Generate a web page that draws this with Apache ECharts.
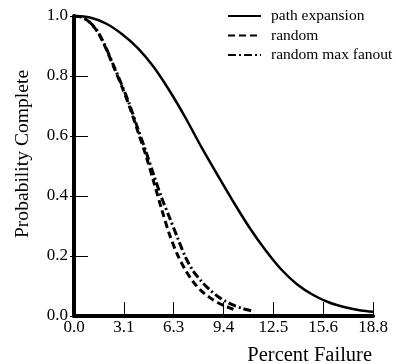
<!DOCTYPE html>
<html>
<head>
<meta charset="utf-8">
<script src="https://cdn.jsdelivr.net/npm/echarts@6/dist/echarts.min.js"></script>
<style>html,body{margin:0;padding:0;background:#fff}#c{width:396px;height:364px}</style>
</head>
<body>
<div id="c"></div>
<script>
// Data
const seriesNames = ['path expansion', 'random', 'random max fanout'];
const pathX = [0, 1, 2, 3, 4, 5, 6, 7, 8, 9, 10, 11, 12, 13, 14, 15, 16, 17, 18, 18.75];
const pathY = [1.0, 0.995, 0.975, 0.94, 0.893, 0.83, 0.75, 0.66, 0.562, 0.47, 0.38, 0.295, 0.22, 0.155, 0.105, 0.07, 0.045, 0.029, 0.018, 0.014];
const randX = [0, 0.5, 1, 1.5, 2, 2.5, 3, 3.5, 4, 4.5, 5, 5.5, 6, 6.5, 7, 7.5, 8, 8.5, 9, 9.5, 10];
const randY = [1.0, 0.996, 0.978, 0.945, 0.892, 0.829, 0.765, 0.695, 0.616, 0.537, 0.447, 0.355, 0.27, 0.203, 0.152, 0.112, 0.083, 0.062, 0.045, 0.033, 0.022];
const fanX = [0, 0.5, 1, 1.5, 2, 2.5, 3, 3.5, 4, 4.5, 5, 5.5, 6, 6.5, 7, 7.5, 8, 8.5, 9, 9.5, 10, 10.5, 11, 11.3];
const fanY = [1.0, 0.996, 0.979, 0.947, 0.895, 0.833, 0.77, 0.702, 0.625, 0.55, 0.47, 0.393, 0.327, 0.26, 0.195, 0.148, 0.115, 0.088, 0.066, 0.049, 0.036, 0.026, 0.019, 0.015];
const xTickValues = [0, 3.125, 6.25, 9.375, 12.5, 15.625, 18.75];
const xTickLabels = ['0.0', '3.1', '6.3', '9.4', '12.5', '15.6', '18.8'];
const yTickLabels = ['0.0', '0.2', '0.4', '0.6', '0.8', '1.0'];

const zip = (xs, ys) => xs.map((x, i) => [x, ys[i]]);
const FONT = "'Liberation Serif', 'Times New Roman', serif";
const HIDDEN = {color: 'rgba(0,0,0,0)', borderWidth: 0, opacity: 0};

const chart = echarts.init(document.getElementById('c'), null, {renderer: 'canvas'});
chart.setOption({
  animation: false,
  backgroundColor: '#fff',
  textStyle: {fontFamily: FONT, color: '#000'},
  grid: {left: 74, right: 23, top: 16, bottom: 48, containLabel: false, outerBoundsMode: 'none'},
  legend: {
    orient: 'vertical',
    left: 222,
    top: 3,
    itemWidth: 33,
    itemHeight: 14,
    itemGap: 3.5,
    itemStyle: {opacity: 0},
    textStyle: {fontFamily: FONT, fontSize: 15.5, lineHeight: 16, color: '#000', padding: [0, 0, 0, 5]},
    data: seriesNames
  },
  xAxis: {
    type: 'value',
    min: 0,
    max: xTickValues[xTickValues.length - 1],
    interval: xTickValues[1],
    name: 'Percent Failure',
    nameLocation: 'end',
    nameGap: -1,
    nameTextStyle: {fontFamily: FONT, fontSize: 20.5, color: '#000', align: 'right', verticalAlign: 'top', padding: [29, 0, 0, 0]},
    axisLine: {show: true, lineStyle: {color: '#000', width: 4}},
    axisTick: {show: true, inside: true, length: 14, lineStyle: {color: '#000', width: 1}},
    axisLabel: {
      fontFamily: FONT, fontSize: 17, color: '#000', margin: 3,
      showMinLabel: true, showMaxLabel: true,
      formatter: v => { const i = xTickValues.findIndex(t => Math.abs(t - v) < 1e-6); return i >= 0 ? xTickLabels[i] : ''; }
    },
    splitLine: {show: false}
  },
  yAxis: [{
    type: 'value',
    min: 0,
    max: 1,
    interval: 0.2,
    name: 'Probability Complete',
    nameLocation: 'middle',
    nameGap: 41,
    nameRotate: 90,
    nameTextStyle: {fontFamily: FONT, fontSize: 19.6, color: '#000', padding: [0, 0, 0, 24]},
    axisLine: {show: true, lineStyle: {color: '#000', width: 4}},
    axisTick: {show: true, inside: true, length: 14, lineStyle: {color: '#000', width: 1}},
    axisLabel: {
      fontFamily: FONT, fontSize: 17, color: '#000', margin: 6,
      formatter: v => yTickLabels[Math.round(v / 0.2)]
    },
    splitLine: {show: false}
  }, {
    type: 'value',
    position: 'left',
    offset: 0,
    min: 0,
    max: 1,
    interval: 0.2,
    axisLine: {show: false},
    axisTick: {show: true, inside: false, length: 4, lineStyle: {color: '#000', width: 1}},
    axisLabel: {show: false},
    splitLine: {show: false}
  }],
  series: [
    {name: seriesNames[0], type: 'line', data: zip(pathX, pathY), symbol: 'circle', showSymbol: false, smooth: 0.3,
     lineStyle: {color: '#000', width: 2.5, type: 'solid'}, itemStyle: HIDDEN, z: 3},
    {name: seriesNames[1], type: 'line', data: zip(randX, randY), symbol: 'circle', showSymbol: false, smooth: 0.3,
     lineStyle: {color: '#000', width: 3, type: [7, 4]}, itemStyle: HIDDEN, z: 3},
    {name: seriesNames[2], type: 'line', data: zip(fanX, fanY), symbol: 'circle', showSymbol: false, smooth: 0.3,
     lineStyle: {color: '#000', width: 3, type: [8, 3, 2, 3]}, itemStyle: HIDDEN, z: 3}
  ]
});
</script>
</body>
</html>
